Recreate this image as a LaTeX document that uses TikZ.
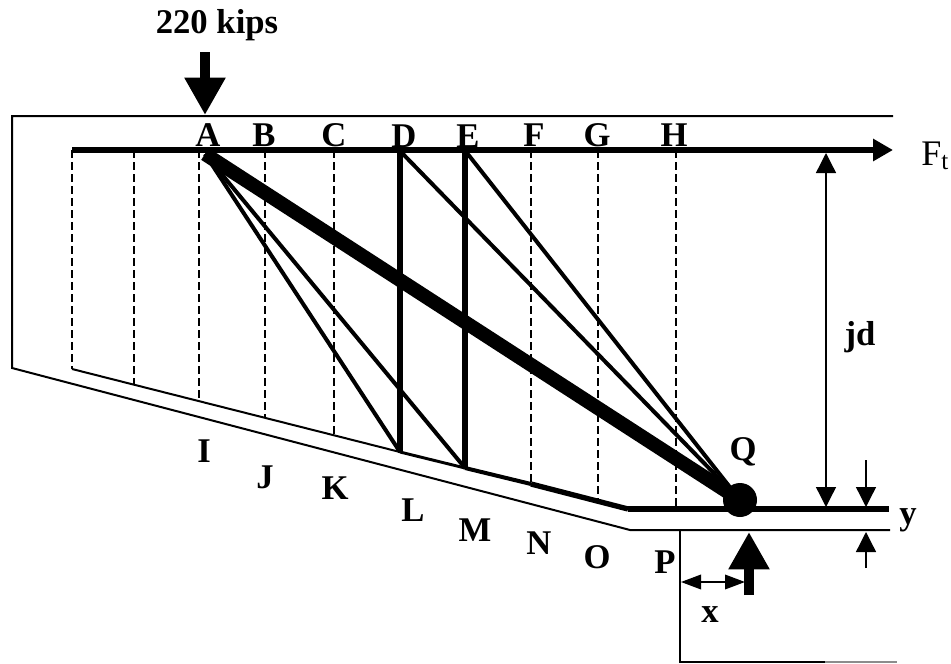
\documentclass[tikz,border=0pt]{standalone}
\usepackage{fontspec}
\setmainfont{Liberation Serif}
\usetikzlibrary{
  arrows.meta
}
\definecolor{edgegray}{HTML}{8C8C8C}
\tikzset{
  outline/.style={draw=black, line width=1.5pt},
  chord/.style={draw=black, line width=4.5pt},
  hanger/.style={draw=black, line width=4pt},
  strut/.style={draw=black, line width=3pt},
  mainstrut/.style={draw=black, line width=10.5pt},
  stirrup/.style={draw=black, line width=1pt, dash pattern=on 6pt off 3pt},
  dimline/.style={draw=black, line width=1pt, -{Triangle[length=15pt,width=15pt]}},
  dimboth/.style={draw=black, line width=1pt, {Triangle[length=15pt,width=11pt]}-{Triangle[length=15pt,width=11pt]}},
  loadarrow/.style={draw=black, line width=7.5pt, -{Triangle[length=28pt,width=29pt]}},
  ptlabel/.style={font=\fontsize{26}{28}\selectfont\bfseries, inner sep=0pt},
  toplabel/.style={ptlabel, anchor=base}
}

\begin{document}
\begin{tikzpicture}[x=0.75pt, y=-0.75pt]
  \useasboundingbox (0,0) rectangle (951,664);

  % concrete outline
  \coordinate (outerTR) at (893,116);
  \coordinate (outerTL) at (12,116);
  \coordinate (outerBL) at (12,368);
  \coordinate (outerKink) at (630,530);
  \coordinate (outerBR) at (890,530);
  \coordinate (supTop) at (680,530);
  \coordinate (supBot) at (680,662);
  \coordinate (supMid) at (825,662);
  \coordinate (supEnd) at (897,662);
  \draw[outline] (outerTR) -- (outerTL) -- (outerBL) -- (outerKink) -- (outerBR);
  \draw[outline] (supTop) -- (supBot) -- (supMid);
  \draw[outline, draw=edgegray] (supMid) -- (supEnd);

  % top panel points
  \coordinate (t0) at (72,150);
  \coordinate (t1) at (134,150);
  \coordinate (tA) at (199,150);
  \coordinate (tB) at (265,150);
  \coordinate (tC) at (334,150);
  \coordinate (tD) at (400,150);
  \coordinate (tE) at (465,150);
  \coordinate (tF) at (531,150);
  \coordinate (tG) at (598,150);
  \coordinate (tH) at (676,150);
  \coordinate (tEnd) at (893,150);

  % bottom panel points
  \coordinate (b0) at (72,369);
  \coordinate (b1) at (134,385);
  \coordinate (bI) at (199,401);
  \coordinate (bJ) at (265,418);
  \coordinate (bK) at (334,435);
  \coordinate (bL) at (400,452);
  \coordinate (bM) at (465,468);
  \coordinate (bN) at (531,484);
  \coordinate (bO) at (598,501);
  \coordinate (bKink) at (628,509);
  \coordinate (bP) at (676,509);
  \coordinate (bEnd) at (889,509);

  \draw[stirrup] (t0) -- (b0);
  \draw[stirrup] (t1) -- (b1);
  \draw[stirrup] (tA) -- (bI);
  \draw[stirrup] (tB) -- (bJ);
  \draw[stirrup] (tC) -- (bK);
  \draw[stirrup] (tF) -- (bN);
  \draw[stirrup] (tG) -- (bO);
  \draw[stirrup] (tH) -- (bP);

  % chords
  \draw[outline] (b0) -- (bL);
  \draw[draw=black, line width=2.2pt] (bL) -- (bM);
  \draw[draw=black, line width=3pt] (bM) -- (bN);
  \draw[draw=black, line width=4pt] (bN) -- (bKink);
  \draw[chord] (bKink) -- (bEnd);
  \draw[chord, -{Triangle[length=15pt,width=16pt]}] (t0) -- (tEnd);

  % struts
  \node[circle, fill=black, inner sep=0pt, minimum size=25.5pt] (qdot) at (740,500) {};
  \coordinate (nodeA) at (205,154);
  \coordinate (nodeD) at (402,153);
  \coordinate (nodeE) at (467,153);
  \draw[mainstrut] (nodeA) -- (qdot.center);
  \draw[strut] (nodeA) -- (bL);
  \draw[strut] (nodeA) -- (bM);
  \draw[hanger] (tD) -- (bL);
  \draw[hanger] (tE) -- (bM);
  \draw[strut] (nodeD) -- (qdot.center);
  \draw[strut] (nodeE) -- (qdot.center);

  % loads
  \coordinate (loadTop) at (205,52);
  \coordinate (loadTip) at (205,115);
  \coordinate (reactTip) at (749,532);
  \coordinate (reactEnd) at (749,595);
  \draw[loadarrow] (loadTop) -- (loadTip);
  \draw[loadarrow] (reactEnd) -- (reactTip);

  % dimensions
  \coordinate (jdTop) at (826,153);
  \coordinate (jdBot) at (826,507);
  \coordinate (yTop) at (866,460);
  \coordinate (yUp) at (866,507);
  \coordinate (yLow) at (866,568);
  \coordinate (yDown) at (866,532);
  \coordinate (xLeft) at (681,582);
  \coordinate (xRight) at (745,582);
  \draw[dimline, {Triangle[length=15pt,width=15pt]}-{Triangle[length=15pt,width=15pt]}] (jdTop) -- (jdBot);
  \draw[dimline] (yTop) -- (yUp);
  \draw[dimline] (yLow) -- (yDown);
  \draw[dimboth] (xLeft) -- (xRight);

  % labels
  \node[toplabel] (kips) at (217,33) {220 kips};
  \node[toplabel] (lblA) at (208,146) {A};
  \node[toplabel] (lblB) at (264,146) {B};
  \node[toplabel] (lblC) at (334,146) {C};
  \node[toplabel] (lblD) at (404,147) {D};
  \node[toplabel] (lblE) at (468,147) {E};
  \node[toplabel] (lblF) at (534,146) {F};
  \node[toplabel] (lblG) at (597,146) {G};
  \node[toplabel] (lblH) at (674,146) {H};
  \node[ptlabel] (lblI) at (204,451) {I};
  \node[ptlabel] (lblJ) at (265,477) {J};
  \node[ptlabel] (lblK) at (335,488) {K};
  \node[ptlabel] (lblL) at (413,510) {L};
  \node[ptlabel] (lblM) at (475,530) {M};
  \node[ptlabel] (lblN) at (539,543) {N};
  \node[ptlabel] (lblO) at (597,557) {O};
  \node[ptlabel] (lblP) at (665,562) {P};
  \node[ptlabel] (lblQ) at (743,452) {Q};
  \node[ptlabel] (lblx) at (710,615) {x};
  \node[ptlabel] (lbly) at (908,520) {y};
  \node[ptlabel] (lbljd) at (860,337) {jd};
  \node[anchor=base west, inner sep=0pt, font=\fontsize{27}{29}\selectfont] (lblFt) at (921,165) {F\textsubscript{t}};
\end{tikzpicture}
\end{document}
